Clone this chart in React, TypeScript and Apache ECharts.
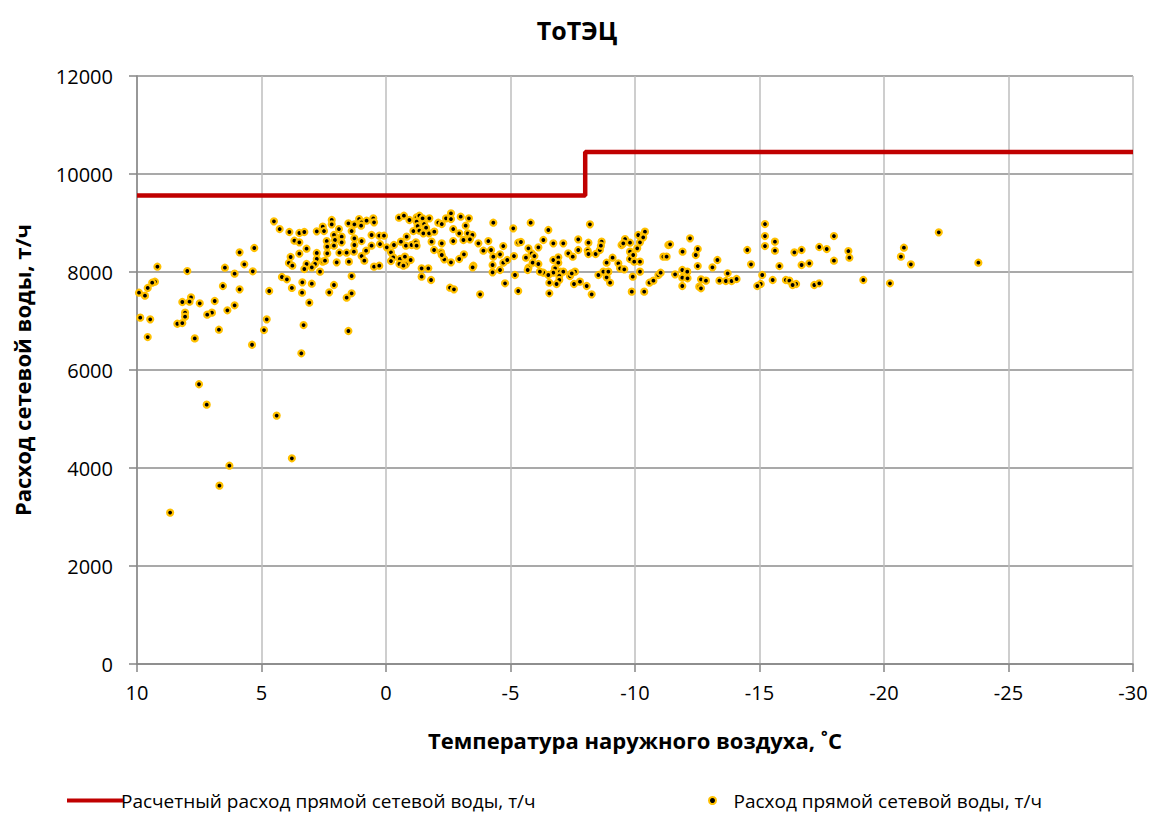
import React, { useEffect, useRef } from "react";
import * as echarts from "echarts";

const chartTitle = "ТоТЭЦ";
const xAxisName = "Температура наружного воздуха, ˚С";
const yAxisName = "Расход сетевой воды, т/ч";
const lineName = "Расчетный расход прямой сетевой воды, т/ч";
const scatterName = "Расход прямой сетевой воды, т/ч";

// Design (step) line: temperature, flow
const designTemps = [10, -8, -8, -30];
const designFlows = [9560, 9560, 10450, 10450];

// Observed points: [temperature °C, flow t/h]
const observedA: [number, number][] = [
  [4.5, 9034], [4.27, 8877], [3.88, 8816], [3.48, 8796], [3.28, 8816], [2.78, 8830], [3.68, 8639], [3.48, 8605],
  [3.19, 8476], [3.48, 8374], [2.78, 8388], [3.83, 8306], [2.78, 8265], [3.9, 8184], [3.76, 8129], [3.19, 8163],
  [2.85, 8163], [2.98, 8095], [3.28, 8061], [5.29, 8490], [5.88, 8401], [5.69, 8157], [5.35, 8014], [6.47, 8088],
  [6.08, 7966], [9.18, 8108], [7.98, 8020], [9.28, 7802], [9.39, 7782], [9.57, 7674], [9.92, 7578], [9.68, 7517],
  [6.55, 7714], [5.88, 7646], [4.18, 7898], [3.98, 7851], [3.36, 7789], [2.98, 7761], [3.78, 7674], [4.69, 7612],
  [3.37, 7578], [7.83, 7483], [7.89, 7394], [8.18, 7388], [7.48, 7361], [6.88, 7408], [3.08, 7374], [6.08, 7320],
  [6.37, 7218], [8.07, 7170], [8.07, 7089], [6.99, 7170], [7.18, 7130], [9.87, 7068], [9.47, 7034], [4.79, 7034],
  [8.38, 6944], [8.18, 6958], [3.31, 6917], [4.9, 6815], [6.71, 6822], [9.57, 6672], [7.68, 6645], [5.38, 6515],
  [3.4, 6341], [7.51, 5709], [7.2, 5293], [4.39, 5069], [3.78, 4198], [6.29, 4047], [6.69, 3640], [8.67, 3090],
];

const observedB: [number, number][] = [
  [2.18, 9061], [2.18, 8972], [2.54, 8925], [2.49, 8836], [1.89, 8877], [1.51, 8993], [1.27, 8972], [1.08, 9081],
  [0.98, 9013], [0.78, 9047], [0.51, 9095], [0.48, 9013], [1.0, 8945], [1.38, 8836], [2.09, 8755], [1.78, 8721],
  [2.38, 8632], [2.05, 8653], [1.78, 8605], [1.27, 8687], [0.98, 8632], [0.58, 8755], [0.27, 8741], [0.08, 8741],
  [2.36, 8517], [2.09, 8537], [1.27, 8551], [0.58, 8537], [0.24, 8571], [-0.03, 8503], [2.36, 8381], [1.87, 8394],
  [1.58, 8394], [1.29, 8415], [0.8, 8435], [0.98, 8326], [2.54, 8211], [2.45, 8231], [1.98, 8197], [1.49, 8211],
  [0.87, 8231], [0.48, 8109], [0.27, 8129], [2.65, 8007], [1.38, 7918], [2.09, 7735], [2.28, 7585], [1.38, 7565],
  [1.58, 7476], [1.51, 6796],
];

const observedC: [number, number][] = [
  [-0.52, 9108], [-0.72, 9149], [-0.94, 9061], [-1.23, 9115], [-1.34, 9149], [-1.23, 9027], [-1.47, 9095], [-1.74, 9095],
  [-1.53, 8979], [-1.61, 8904], [-1.27, 8938], [-1.1, 8836], [-1.34, 8843], [-1.5, 8789], [-1.73, 8789], [-1.94, 8823],
  [-2.1, 9006], [-2.24, 8979], [-2.41, 9095], [-2.61, 9197], [-2.61, 9081], [-3.0, 9129], [-3.33, 9095], [-3.2, 8945],
  [-2.7, 8877], [-2.94, 8789], [-3.28, 8789], [-3.47, 8755], [-4.31, 9006], [-0.83, 8721], [-0.6, 8619], [-0.8, 8537],
  [-1.03, 8551], [-1.2, 8605], [-1.23, 8537], [-0.32, 8551], [-0.2, 8401], [-0.29, 8299], [-0.2, 8224], [-0.56, 8265],
  [-0.76, 8313], [-0.99, 8245], [-0.54, 8163], [-0.8, 8156], [-0.7, 8129], [-1.83, 8619], [-2.24, 8585], [-2.7, 8632],
  [-3.11, 8653], [-3.37, 8666], [-1.93, 8449], [-2.21, 8401], [-2.34, 8258], [-2.24, 8347], [-2.61, 8197], [-2.94, 8265],
  [-3.13, 8360], [-3.51, 8129], [-3.48, 8095], [-3.71, 8585], [-3.91, 8435], [-4.11, 8632], [-4.22, 8449], [-4.31, 8313],
  [-4.28, 8143], [-4.28, 7993], [-4.58, 8360], [-4.58, 8041], [-1.43, 8075], [-1.7, 8075], [-1.43, 7905], [-1.81, 7837],
  [-2.57, 7680], [-2.73, 7646], [-3.78, 7544],
];

const observedD: [number, number][] = [
  [-4.71, 8530], [-5.11, 8891], [-5.81, 9006], [-6.52, 8857], [-8.19, 8972], [-5.31, 8598], [-5.42, 8612], [-6.32, 8653],
  [-6.72, 8585], [-7.12, 8585], [-7.72, 8666], [-8.13, 8598], [-8.66, 8619], [-4.71, 8190], [-4.87, 8245], [-5.14, 8326],
  [-5.72, 8483], [-6.12, 8503], [-5.85, 8381], [-5.96, 8326], [-5.62, 8292], [-5.89, 8190], [-6.12, 8163], [-5.72, 8088],
  [-5.69, 8041], [-6.72, 8245], [-6.92, 8299], [-6.92, 8190], [-6.79, 8075], [-6.72, 7986], [-6.32, 7986], [-6.52, 7939],
  [-6.18, 8007], [-6.99, 8007], [-7.12, 8007], [-6.96, 7918], [-6.96, 7837], [-6.85, 7755], [-6.56, 7782], [-6.56, 7565],
  [-7.32, 8381], [-7.5, 8313], [-7.72, 8449], [-8.1, 8435], [-8.13, 8367], [-8.42, 8367], [-8.59, 8449], [-8.63, 8537],
  [-9.1, 8292], [-8.86, 8190], [-9.33, 8177], [-9.4, 8075], [-9.57, 8054], [-8.53, 7939], [-8.86, 7891], [-9.0, 7782],
  [-8.73, 8007], [-8.93, 8007], [-7.79, 7803], [-8.06, 7714], [-8.26, 7544], [-7.39, 7918], [-7.55, 7755], [-7.59, 8007],
  [-7.46, 7973], [-5.18, 7939], [-4.78, 7769], [-5.31, 7612], [-9.46, 8551], [-9.6, 8673], [-9.53, 8585], [-9.8, 8598],
  [-10.13, 8755], [-10.2, 8605], [-10.4, 8823], [-10.33, 8707], [-10.09, 8483], [-9.8, 8415], [-9.87, 8326], [-9.8, 8265],
  [-9.97, 8211], [-10.2, 8211], [-9.93, 8347], [-10.2, 8007], [-9.91, 7905], [-9.87, 7599], [-10.37, 7599], [-10.58, 7782],
  [-10.74, 7823], [-10.94, 7939], [-11.03, 7986], [-11.14, 8313], [-11.27, 8313], [-11.34, 8551],
];

const observedE: [number, number][] = [
  [-11.41, 8564], [-12.21, 8687], [-11.91, 8415], [-12.52, 8469], [-12.44, 8347], [-12.52, 8122], [-13.11, 8095], [-13.31, 8245],
  [-11.61, 7952], [-11.9, 8041], [-12.1, 8007], [-11.9, 7884], [-12.11, 7871], [-11.9, 7714], [-12.58, 7701], [-12.65, 7667],
  [-12.65, 7850], [-12.85, 7823], [-13.39, 7823], [-13.65, 7816], [-13.88, 7816], [-14.08, 7857], [-13.72, 7973], [-14.51, 8449],
  [-14.66, 8156], [-15.11, 7939], [-15.05, 7755], [-14.91, 7714], [-15.22, 8979], [-15.22, 8734], [-15.22, 8530], [-15.62, 8619],
  [-15.62, 8435], [-15.8, 8122], [-15.53, 7837], [-16.06, 7837], [-16.2, 7823], [-16.47, 7755], [-16.33, 7735], [-16.4, 8401],
  [-16.69, 8449], [-16.69, 8143], [-17.0, 8177], [-17.4, 8510], [-17.7, 8469], [-17.99, 8734], [-17.99, 8231], [-17.2, 7735],
  [-17.4, 7769], [-18.57, 8428], [-18.61, 8292], [-19.17, 7837], [-20.24, 7769], [-20.8, 8496], [-20.68, 8313], [-21.08, 8156],
  [-22.2, 8809], [-23.79, 8190],
];

const xTickMin = -30;
const xTickMax = 10;
const xTickStep = 5;
const yTickMin = 0;
const yTickMax = 12000;
const yTickStep = 2000;

const FONT = "'Open Sans', 'DejaVu Sans', sans-serif";

export default function App() {
  const ref = useRef<HTMLDivElement>(null);

  useEffect(() => {
    if (!ref.current) return;
    const chart = echarts.init(ref.current, undefined, { renderer: "svg" });
    const designData = designTemps.map((t, i) => [t, designFlows[i]]);
    const observed = [...observedA, ...observedB, ...observedC, ...observedD, ...observedE];

    chart.setOption({
      animation: false,
      backgroundColor: "#ffffff",
      textStyle: { fontFamily: FONT },
      title: {
        text: chartTitle,
        left: "center",
        top: 12,
        textStyle: { fontFamily: FONT, fontSize: 25, fontWeight: "bold", color: "#000" },
      },
      grid: { left: 137, right: 21, top: 76, bottom: 161, containLabel: false },
      legend: [
        {
          data: [{ name: lineName, icon: "rect" }],
          left: 62,
          top: 786,
          itemWidth: 56,
          itemHeight: 4,
          itemGap: 0,
          textStyle: { fontFamily: FONT, fontSize: 19, color: "#000", padding: [0, 0, 0, -7] },
        },
        {
          data: [{ name: scatterName, icon: "circle" }],
          left: 703,
          top: 786,
          itemWidth: 22,
          itemHeight: 7,
          textStyle: { fontFamily: FONT, fontSize: 19, color: "#000", padding: [0, 0, 0, 5] },
        },
      ],
      xAxis: {
        type: "value",
        inverse: true,
        min: xTickMin,
        max: xTickMax,
        interval: xTickStep,
        name: xAxisName,
        nameLocation: "middle",
        nameGap: 65,
        nameTextStyle: { fontFamily: FONT, fontSize: 22, fontWeight: "bold", color: "#000" },
        axisLine: { show: true, onZero: false, lineStyle: { color: "#868686", width: 1.5 } },
        axisTick: { show: true, length: 8, lineStyle: { color: "#868686", width: 1.5 } },
        axisLabel: { fontFamily: FONT, fontSize: 20, color: "#000", margin: 18 },
        splitLine: { show: true, lineStyle: { color: "#BEBEBE", width: 1.5 } },
      },
      yAxis: {
        type: "value",
        min: yTickMin,
        max: yTickMax,
        interval: yTickStep,
        name: yAxisName,
        nameLocation: "middle",
        nameGap: 104,
        nameTextStyle: { fontFamily: FONT, fontSize: 22, fontWeight: "bold", color: "#000" },
        axisLine: { show: true, onZero: false, lineStyle: { color: "#868686", width: 1.5 } },
        axisTick: { show: true, length: 8, lineStyle: { color: "#868686", width: 1.5 } },
        axisLabel: {
          fontFamily: FONT,
          fontSize: 20,
          color: "#000",
          margin: 24,
          formatter: (v: number) => String(v),
        },
        splitLine: { show: true, lineStyle: { color: "#8C8C8C", width: 1.5 } },
      },
      series: [
        {
          name: lineName,
          type: "line",
          data: designData,
          symbol: "none",
          lineStyle: { color: "#C00000", width: 4.5 },
          itemStyle: { color: "#C00000" },
          z: 3,
        },
        {
          name: scatterName,
          type: "scatter",
          data: observed,
          symbol: "circle",
          symbolSize: 6,
          itemStyle: { color: "#000000", borderColor: "#FFC000", borderWidth: 2.2, opacity: 1 },
          z: 2,
        },
      ],
    });
    return () => chart.dispose();
  }, []);

  return (
    <div
      ref={ref}
      style={{ position: "absolute", left: 0, top: 0, width: 1154, height: 825 }}
    />
  );
}
